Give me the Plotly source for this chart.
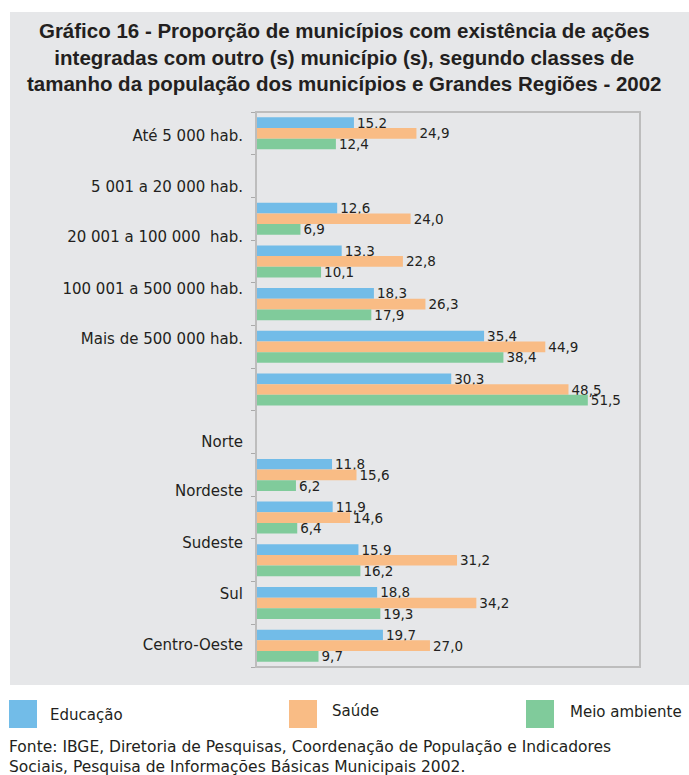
import plotly.graph_objects as go

# ---- data ----
series_names = ["Educação", "Saúde", "Meio ambiente"]
educacao = [15.2, 12.6, 13.3, 18.3, 35.4, 30.3, 11.8, 11.9, 15.9, 18.8, 19.7]
saude = [24.9, 24.0, 22.8, 26.3, 44.9, 48.5, 15.6, 14.6, 31.2, 34.2, 27.0]
meio_ambiente = [12.4, 6.9, 10.1, 17.9, 38.4, 51.5, 6.2, 6.4, 16.2, 19.3, 9.7]
category_labels = ["Até 5 000 hab.", "5 001 a 20 000 hab.", "20 001 a 100 000  hab.",
                   "100 001 a 500 000 hab.", "Mais de 500 000 hab.",
                   "Norte", "Nordeste", "Sudeste", "Sul", "Centro-Oeste"]
colors = ["#72bce8", "#f9bc85", "#80cb9b"]

# ---- layout (slot positions of bar groups and labels, as drawn in the original) ----
bar_slots = [0, 2, 3, 4, 5, 6, 8, 9, 10, 11, 12]
label_slots = [0.06, 1.24, 2.42, 3.65, 4.81, 7.22, 8.37, 9.6, 10.79, 11.97]

W, H = 689, 775
def px(x): return x / W
def py(y): return 1 - y / H

fig = go.Figure()
for name, vals, col in zip(series_names, [educacao, saude, meio_ambiente], colors):
    fig.add_trace(go.Bar(
        name=name, y=bar_slots, x=vals, orientation="h",
        marker=dict(color=col, line=dict(width=0)),
        texttemplate="%{x:.1f}", textposition="outside", constraintext="none",
        textfont=dict(family="DejaVu Sans", size=13.5, color="#231f20"),
        cliponaxis=False, showlegend=False,
    ))

shapes = [
    dict(type="rect", xref="paper", yref="paper", x0=px(10), x1=1.0, y0=py(685), y1=py(12),
         fillcolor="#e6e7e9", line=dict(width=0), layer="below"),
    dict(type="rect", xref="x domain", yref="y domain", x0=0, x1=1, y0=0, y1=1,
         line=dict(color="#bdbdbd", width=2), layer="above"),
]
legend_x = [9, 289, 526]
legend_text_x = [48, 330, 568]
legend_text_y = [715, 711, 712]
annotations = []
for i, (lx, tx, ty) in enumerate(zip(legend_x, legend_text_x, legend_text_y)):
    shapes.append(dict(type="rect", xref="paper", yref="paper", x0=px(lx), x1=px(lx + 28),
                       y0=py(728), y1=py(700), fillcolor=colors[i], line=dict(width=0)))
    annotations.append(dict(xref="paper", yref="paper", x=px(tx), y=py(ty), text=series_names[i],
                            showarrow=False, xanchor="left", yanchor="middle",
                            font=dict(family="DejaVu Sans", size=15, color="#231f20")))

annotations.append(dict(
    xref="paper", yref="paper", x=0.5, y=py(57), xanchor="center", yanchor="middle",
    showarrow=False, align="center",
    text="<b>Gráfico 16 - Proporção de municípios com existência de ações<br>"
         "integradas com outro (s) município (s), segundo classes de<br>"
         "tamanho da população dos municípios e Grandes Regiões - 2002</b>",
    font=dict(family="Liberation Sans", size=20.5, color="#231f20")))
annotations.append(dict(
    xref="paper", yref="paper", x=px(7), y=py(757), xanchor="left", yanchor="middle",
    showarrow=False, align="left",
    text="Fonte: IBGE, Diretoria de Pesquisas, Coordenação de População e Indicadores<br>"
         "Sociais, Pesquisa de Informações Básicas Municipais 2002.",
    font=dict(family="DejaVu Sans", size=15.5, color="#231f20")))

fig.update_layout(
    width=W, height=H, margin=dict(l=0, r=0, t=0, b=0),
    paper_bgcolor="white", plot_bgcolor="white",
    barmode="group", bargap=0.25, bargroupgap=0,
    separators=", ",
    shapes=shapes, annotations=annotations,
    xaxis=dict(domain=[px(256), px(640)], range=[0, 59.6], showticklabels=False,
               showgrid=False, zeroline=False, ticks="", showline=False),
    yaxis=dict(domain=[py(667), py(112)], range=[12.5, -0.5], tickmode="array",
               tickvals=label_slots, ticktext=category_labels, ticks="",
               showgrid=False, zeroline=False, showline=False, automargin=False,
               ticklabelstandoff=12,
               tickfont=dict(family="DejaVu Sans", size=15, color="#231f20"),
               minor=dict(tickmode="array", tickvals=[s - 0.5 for s in range(14)],
                          ticks="outside", ticklen=4, tickcolor="#aaaaaa", showgrid=False)),
)

fig.write_html("out.html", config={"displayModeBar": False},
               post_script="document.body.style.margin='0';document.body.style.overflow='hidden';")
